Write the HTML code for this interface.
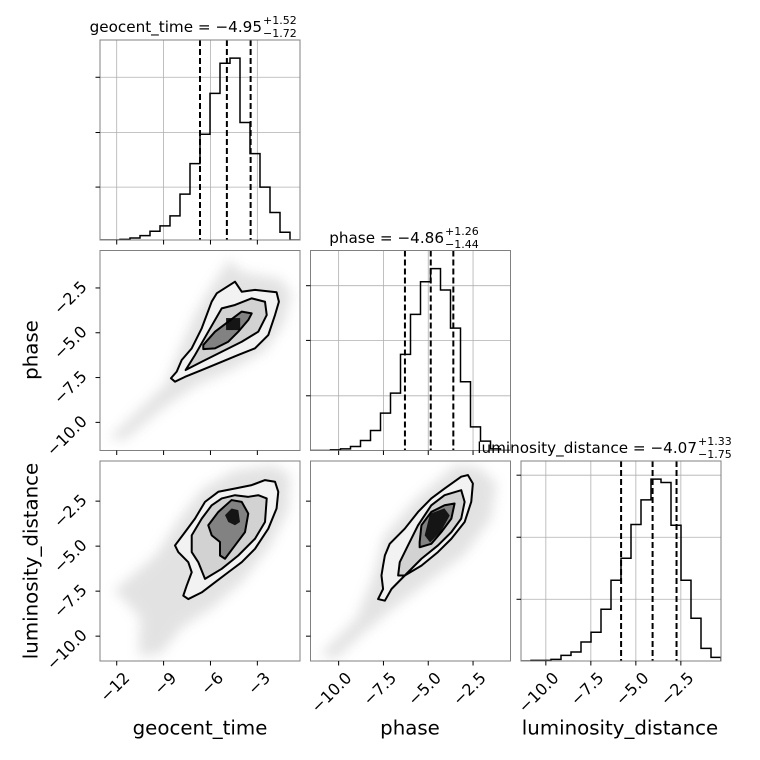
<!DOCTYPE html>
<html><head><meta charset="utf-8"><style>
html,body{margin:0;padding:0;background:#fff}
svg{display:block;font-family:"DejaVu Sans","Liberation Sans",sans-serif}
</style></head><body>
<svg id="fig" width="760" height="760" viewBox="0 0 760 760" xmlns="http://www.w3.org/2000/svg">
<defs>
<filter id="blur" x="-20%" y="-20%" width="140%" height="140%"><feGaussianBlur stdDeviation="6"/></filter>
</defs>
</svg>
<script>
// ---- data ----
const paramNames = ["geocent_time", "phase", "luminosity_distance"];
const geoLimits = [-13.07, -0.27];
const phaseLimits = [-11.57, -0.41];
const lumLimits = [-11.38, -0.27];
const geoCounts = [0,0,2,6,13,26,42,72,137,228,316,438,528,543,351,258,158,82,23,0];
const phaseCounts = [0,0,2,5,12,30,60,112,172,288,408,506,545,481,367,206,71,28,5,0];
const lumCounts = [0,2,2,5,17,27,57,86,155,242,308,409,483,545,535,407,242,128,38,11];
const geoQuantiles = [-6.67, -4.95, -3.43];
const phaseQuantiles = [-6.30, -4.86, -3.60];
const lumQuantiles = [-5.82, -4.07, -2.74];
const geoHistTicks = [158, 321, 486];
const phaseHistTicks = [164, 330, 494];
const lumHistTicks = [185, 371, 557];
const geoTicks = [-12, -9, -6, -3];
const geoTickLabels = ["−12", "−9", "−6", "−3"];
const phaseTicks = [-10, -7.5, -5, -2.5];
const phaseTickLabels = ["−10.0", "−7.5", "−5.0", "−2.5"];
const lumTicks = [-10, -7.5, -5, -2.5];
const lumTickLabels = ["−10.0", "−7.5", "−5.0", "−2.5"];
const gpCloud = [[-12.5,-10.9],[-10,-8.8],[-8.8,-7.8],[-8,-6],[-7,-4],[-6,-2.5],[-4.8,-0.9],[-4,-1.6],[-1.5,-2],[-0.8,-2.8],[-1.3,-4.5],[-2.5,-6],[-4.5,-7],[-7,-8],[-9,-9.2],[-11.5,-11]];
const gpOuter = [[-8.53,-7.54],[-8.16,-7.17],[-7.84,-6.52],[-7.20,-5.87],[-6.56,-4.75],[-5.92,-3.26],[-5.60,-2.80],[-4.43,-2.15],[-4.00,-2.71],[-3.15,-2.61],[-1.77,-2.74],[-1.62,-3.27],[-1.87,-4.01],[-2.30,-5.13],[-3.15,-5.87],[-4.22,-6.24],[-5.28,-6.62],[-6.56,-7.08],[-7.63,-7.46],[-8.27,-7.73]];
const gpMiddle = [[-7.59,-7.08],[-6.99,-6.24],[-6.14,-4.94],[-5.28,-3.64],[-4.43,-3.45],[-3.36,-3.08],[-2.51,-3.27],[-2.40,-4.01],[-2.94,-4.94],[-4.00,-5.50],[-5.28,-6.06],[-6.56,-6.62]];
const gpInner = [[-6.46,-5.68],[-5.71,-4.94],[-4.86,-4.38],[-4.00,-3.82],[-3.36,-3.92],[-3.58,-4.29],[-4.22,-4.94],[-4.86,-5.50],[-5.71,-5.87],[-6.46,-5.91]];
const gpCore = [[-5.0,-4.85],[-5.0,-4.18],[-4.1,-4.18],[-4.1,-4.85]];
const glCloud = [[-12.2,-7.5],[-9.5,-5.5],[-8,-3.5],[-6.5,-1.8],[-4.5,-0.8],[-2,-0.5],[-0.9,-1.0],[-1,-3],[-2.2,-5],[-4,-7],[-6,-8.5],[-7.8,-9.5],[-9.2,-11],[-10.6,-11.1],[-10.5,-9],[-11.5,-8]];
const glOuter = [[-8.27,-4.96],[-7.63,-4.22],[-6.99,-3.47],[-6.35,-2.54],[-5.50,-1.98],[-4.43,-1.80],[-3.36,-1.61],[-2.51,-1.33],[-1.87,-1.42],[-1.66,-1.98],[-1.77,-2.91],[-2.30,-4.03],[-3.15,-5.15],[-4.00,-5.89],[-4.86,-6.45],[-5.71,-7.01],[-6.56,-7.57],[-7.42,-7.94],[-7.74,-7.75],[-7.52,-7.19],[-7.20,-6.45],[-7.42,-5.89],[-8.06,-5.33]];
const glMiddle = [[-7.20,-4.40],[-6.56,-3.47],[-5.92,-2.73],[-5.28,-2.35],[-4.43,-2.17],[-3.58,-2.26],[-2.94,-2.17],[-2.40,-2.35],[-2.51,-3.66],[-3.15,-4.59],[-4.22,-5.52],[-5.28,-6.26],[-6.35,-6.82],[-6.78,-5.89],[-7.20,-5.33]];
const glInner = [[-6.14,-3.84],[-5.50,-3.10],[-4.65,-2.44],[-4.00,-2.54],[-3.58,-3.19],[-3.79,-4.22],[-4.43,-4.96],[-5.07,-5.70],[-5.39,-5.52],[-5.39,-4.77],[-5.92,-4.40]];
const glCore = [[-5.07,-3.28],[-4.65,-2.91],[-4.22,-3.00],[-4.11,-3.66],[-4.43,-3.84],[-4.86,-3.66]];
const plCloud = [[-11,-11],[-9,-9],[-8,-6.5],[-7.5,-4.5],[-5.8,-2.5],[-3.5,-0.5],[-2.2,-0.6],[-1.2,-1.5],[-1.5,-3.5],[-3,-5.5],[-5,-7],[-7,-8.5],[-8.8,-10],[-10.2,-11.3]];
const plOuter = [[-7.80,-7.94],[-7.52,-7.38],[-7.61,-6.63],[-7.52,-6.08],[-7.42,-5.52],[-7.15,-4.87],[-6.31,-4.03],[-5.57,-3.10],[-4.83,-2.35],[-4.09,-1.80],[-3.16,-1.14],[-2.79,-1.05],[-2.51,-1.52],[-2.60,-2.54],[-2.97,-3.66],[-3.71,-4.59],[-4.46,-5.33],[-5.38,-6.08],[-6.31,-6.63],[-7.05,-7.38],[-7.42,-8.03]];
const plMiddle = [[-6.68,-6.63],[-6.59,-5.89],[-6.13,-4.96],[-5.57,-3.84],[-4.83,-2.73],[-4.09,-2.17],[-3.16,-1.89],[-2.97,-2.54],[-3.16,-3.47],[-3.71,-4.22],[-4.46,-4.96],[-5.38,-5.70],[-6.31,-6.63]];
const plInner = [[-5.48,-4.78],[-5.38,-3.84],[-4.83,-3.10],[-4.09,-2.73],[-3.53,-2.63],[-3.71,-3.47],[-4.27,-4.22],[-4.83,-4.87],[-5.48,-5.06]];
const plCore = [[-5.2,-4.4],[-4.9,-3.2],[-4.1,-2.9],[-3.8,-3.3],[-4.3,-4.2],[-4.9,-4.8]];

// ---- drawing ----
const NS = "http://www.w3.org/2000/svg";
const svg = document.getElementById("fig");
const colX = [100, 310.5, 521];
const rowY = [40, 250.5, 461];
const PW = 200, PH = 200;
function mk(tag, attrs, parent) {
  const e = document.createElementNS(NS, tag);
  for (const k in attrs) e.setAttribute(k, attrs[k]);
  (parent || svg).appendChild(e);
  return e;
}
function sx(c, lim, v) { return colX[c] + (v - lim[0]) / (lim[1] - lim[0]) * PW; }
function sy(r, lim, v) { return rowY[r] + PH - (v - lim[0]) / (lim[1] - lim[0]) * PH; }
function clip(id, r, c) {
  const cp = mk("clipPath", {id: id}, svg.querySelector("defs"));
  mk("rect", {x: colX[c], y: rowY[r], width: PW, height: PH}, cp);
}
function spine(r, c, g) {
  const s = mk("rect", {x: colX[c], y: rowY[r], width: PW, height: PH, fill: "none", stroke: "#808080", "stroke-width": 1}, g);
  
  
}
function xTicks(r, c, lim, ticks, labels, g, withLabels) {
  ticks.forEach((t, i) => {
    const x = sx(c, lim, t);
    const tk = mk("line", {x1: x, x2: x, y1: rowY[r] + PH, y2: rowY[r] + PH + 4.5, stroke: "#000", "stroke-width": 1}, g);
    
    
    if (withLabels) {
      const ax = x + 10, ay = rowY[r] + PH + 14;
      const tx = mk("text", {x: ax, y: ay, "text-anchor": "end", "dominant-baseline": "central", "font-size": 16, transform: `rotate(-45 ${ax} ${ay})`}, g);
      tx.textContent = labels[i];
      
      
    }
  });
}
function yTicks(r, c, lim, ticks, labels, g, withLabels) {
  ticks.forEach((t, i) => {
    const y = sy(r, lim, t);
    const tk = mk("line", {x1: colX[c] - 4.5, x2: colX[c], y1: y, y2: y, stroke: "#000", "stroke-width": 1}, g);
    
    
    if (withLabels) {
      const ax = colX[c] - 16, ay = y - 4;
      const tx = mk("text", {x: ax, y: ay, "text-anchor": "end", "dominant-baseline": "central", "font-size": 16, transform: `rotate(-45 ${ax} ${ay})`}, g);
      tx.textContent = labels[i];
      
      
    }
  });
}
function hist(k, lim, counts, quant, hTicks, xt, xtl, name, showXLabels) {
  const g = mk("g", {});
  
  
  const maxC = Math.max(...counts);
  const ylim = [0, 1.1 * maxC];
  const id = "clip" + k + k; clip(id, k, k);
  xt.forEach(t => { const x = sx(k, lim, t); const l = mk("line", {x1: x, x2: x, y1: rowY[k], y2: rowY[k] + PH, stroke: "#b0b0b0", "stroke-width": 0.8}, g);   });
  hTicks.forEach(t => { const y = sy(k, ylim, t); const l = mk("line", {x1: colX[k], x2: colX[k] + PW, y1: y, y2: y, stroke: "#b0b0b0", "stroke-width": 0.8}, g);   });
  const n = counts.length, bw = (lim[1] - lim[0]) / n;
  let d = `M${sx(k, lim, lim[0])},${sy(k, ylim, 0)}`;
  counts.forEach((cnt, i) => {
    const a = lim[0] + i * bw, b = a + bw;
    d += ` L${sx(k, lim, a)},${sy(k, ylim, cnt)} L${sx(k, lim, b)},${sy(k, ylim, cnt)}`;
  });
  d += ` L${sx(k, lim, lim[1])},${sy(k, ylim, 0)}`;
  const p = mk("path", {d: d, fill: "none", stroke: "#000", "stroke-width": 1.5, "clip-path": `url(#${id})`}, g);
  
  
  quant.forEach(q => {
    const x = sx(k, lim, q);
    const l = mk("line", {x1: x, x2: x, y1: rowY[k], y2: rowY[k] + PH, stroke: "#000", "stroke-width": 2, "stroke-dasharray": "6,3"}, g);
    
    
  });
  spine(k, k, g);
  yTicks(k, k, ylim, hTicks, [], g, false);
  xTicks(k, k, lim, xt, xtl, g, showXLabels);
}
function poly(r, c, xl, yl, pts, attrs, g, name) {
  const d = pts.map((p, i) => (i ? "L" : "M") + sx(c, xl, p[0]) + "," + sy(r, yl, p[1])).join(" ") + " Z";
  const e = mk("path", Object.assign({d: d}, attrs), g);
  
  
  return e;
}
function panel2d(r, c, xl, yl, cloud, outer, middle, inner, core, name) {
  const g = mk("g", {});
  
  
  const id = "clip" + r + c; clip(id, r, c);
  const gi = mk("g", {"clip-path": `url(#${id})`}, g);
  poly(r, c, xl, yl, cloud, {fill: "#a8a8a8", opacity: 0.32, filter: "url(#blur)"}, gi, 'scatter-cloud');
  poly(r, c, xl, yl, outer, {fill: "#f2f2f2"}, gi, 'density-level-1');
  poly(r, c, xl, yl, middle, {fill: "#d2d2d2"}, gi, 'density-level-2');
  poly(r, c, xl, yl, inner, {fill: "#828282"}, gi, 'density-level-3');
  poly(r, c, xl, yl, core, {fill: "#151515"}, gi, 'density-peak');
  [outer, middle, inner].forEach(ct => poly(r, c, xl, yl, ct, {fill: "none", stroke: "#000", "stroke-width": 2, "stroke-linejoin": "round"}, gi, 'contour-line'));
  spine(r, c, g);
  return g;
}
hist(0, geoLimits, geoCounts, geoQuantiles, geoHistTicks, geoTicks, geoTickLabels, 'geocent-time', false);
hist(1, phaseLimits, phaseCounts, phaseQuantiles, phaseHistTicks, phaseTicks, phaseTickLabels, 'phase', false);
hist(2, lumLimits, lumCounts, lumQuantiles, lumHistTicks, lumTicks, lumTickLabels, 'luminosity-distance', true);
const g10 = panel2d(1, 0, geoLimits, phaseLimits, gpCloud, gpOuter, gpMiddle, gpInner, gpCore, 'geocent-vs-phase');
xTicks(1, 0, geoLimits, geoTicks, geoTickLabels, g10, false);
yTicks(1, 0, phaseLimits, phaseTicks, phaseTickLabels, g10, true);
const g20 = panel2d(2, 0, geoLimits, lumLimits, glCloud, glOuter, glMiddle, glInner, glCore, 'geocent-vs-luminosity');
xTicks(2, 0, geoLimits, geoTicks, geoTickLabels, g20, true);
yTicks(2, 0, lumLimits, lumTicks, lumTickLabels, g20, true);
const g21 = panel2d(2, 1, phaseLimits, lumLimits, plCloud, plOuter, plMiddle, plInner, plCore, 'phase-vs-luminosity');
xTicks(2, 1, phaseLimits, phaseTicks, phaseTickLabels, g21, true);
yTicks(2, 1, lumLimits, lumTicks, lumTickLabels, g21, false);

function title(main, sup, sub, xEnd, base, name) {
  const t = mk("text", {x: xEnd, y: base, "text-anchor": "end", "font-size": 15.2});
  t.textContent = main;
  
  
  const a = mk("text", {x: xEnd + 1, y: base - 8, "font-size": 11});
  a.textContent = sup;
  
  
  const b = mk("text", {x: xEnd + 1, y: base + 5, "font-size": 11});
  b.textContent = sub;
  
  
}
title("geocent_time = −4.95", "+1.52", "−1.72", 262, 32, 'geocent-time');
title("phase = −4.86", "+1.26", "−1.44", 444, 243, 'phase');
title("luminosity_distance = −4.07", "+1.33", "−1.75", 697, 453, 'luminosity-distance');

function label(txt, x, y, rot, name) {
  const t = mk("text", {x: x, y: y, "text-anchor": "middle", "dominant-baseline": "central", "font-size": 19.8, transform: rot ? `rotate(-90 ${x} ${y})` : ""});
  t.textContent = txt;
  
  
}
label(paramNames[0], 200, 728, false, 'x-axis-title-geocent-time');
label(paramNames[1], 410, 728, false, 'x-axis-title-phase');
label(paramNames[2], 620, 728, false, 'x-axis-title-luminosity-distance');
label(paramNames[1], 31, 350, true, 'y-axis-title-phase');
label(paramNames[2], 31, 561, true, 'y-axis-title-luminosity-distance');
</script>
</body></html>
